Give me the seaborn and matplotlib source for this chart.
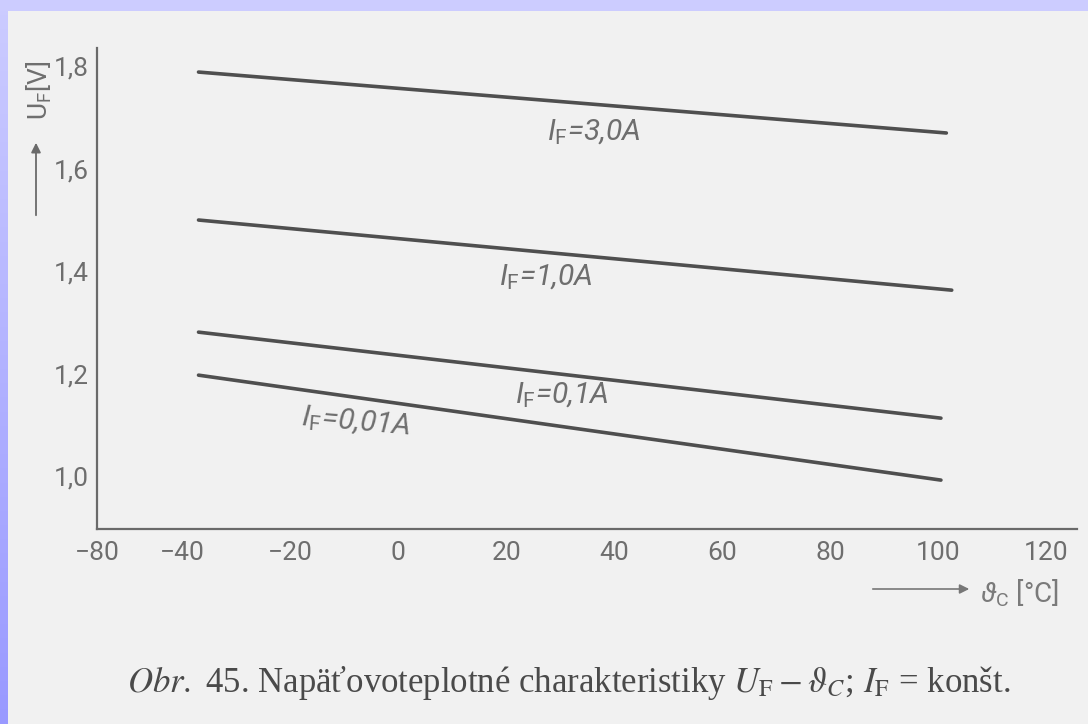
import numpy as np
import pandas as pd
import matplotlib
matplotlib.use("Agg")
import matplotlib.pyplot as plt
import seaborn as sns
from matplotlib import font_manager as fm

# ---- data ----
currents = ["3,0A", "1,0A", "0,1A", "0,01A"]
t_start = [-37.0, -37.0, -37.0, -37.0]
t_end = [101.5, 102.5, 100.5, 100.5]
u_start = [1.789, 1.500, 1.281, 1.197]
u_end = [1.670, 1.363, 1.113, 0.992]
label_t = [36.1, 27.3, 30.3, -7.8]
label_u = [1.672, 1.389, 1.158, 1.106]
label_rot = [0, 0, 0, -5]

xtick_vals = [-40, -20, 0, 20, 40, 60, 80, 100, 120]
xtick_labels = ["−40", "−20", "0", "20", "40", "60", "80", "100", "120"]
origin_label = "−80"
ytick_vals = [1.0, 1.2, 1.4, 1.6, 1.8]
ytick_labels = ["1,0", "1,2", "1,4", "1,6", "1,8"]

caption = (r"$\it{Obr.}$ 45. Napäťovoteplotné charakteristiky "
           r"$U_{\mathrm{F}}-\vartheta_{C}$; $I_{\mathrm{F}}$ = konšt.")

# ---- style ----
sns.set_style("white")
available = {f.name for f in fm.fontManager.ttflist}
sans = "DejaVu Sans"
for cand in ["Roboto", "Lato", "Liberation Sans"]:
    if cand in available:
        sans = cand
        break
serif = "Liberation Serif" if "Liberation Serif" in available else "DejaVu Serif"
plt.rcParams["font.family"] = [sans, "DejaVu Sans"]
plt.rcParams["mathtext.fontset"] = "custom"
plt.rcParams["mathtext.rm"] = sans
plt.rcParams["mathtext.it"] = sans + ":italic"
plt.rcParams["mathtext.bf"] = sans + ":bold"

W, H = 1088, 724
fig = plt.figure(figsize=(W / 100, H / 100), dpi=100)
paper = "#f1f1f1"
fig.patch.set_facecolor(paper)

# scanned page border (lavender strips on top and left)
grad = np.linspace(0, 1, H)[:, None]
top_c = np.array([0.80, 0.80, 1.0])
bot_c = np.array([0.60, 0.60, 1.0])
left = (top_c[None, None, :] * (1 - grad[..., None]) + bot_c[None, None, :] * grad[..., None])
left = np.repeat(left, 8, axis=1)
fig.figimage(left, xo=0, yo=0, origin="upper", zorder=0)
top = np.ones((11, W, 3)) * top_c[None, None, :]
fig.figimage(top, xo=0, yo=H - 11, origin="upper", zorder=0)

# axes placement (pixels from reference)
x0, x1 = 97, 1077
y_top, y_bot = 48, 529
ax = fig.add_axes([x0 / W, (H - y_bot) / H, (x1 - x0) / W, (y_bot - y_top) / H])
ax.set_facecolor("none")

xlim = (-55.8, 125.7)
ylim = (0.8965, 1.836)

rows = []
for c, ts, te, us, ue in zip(currents, t_start, t_end, u_start, u_end):
    rows.append({"I": c, "t": ts, "u": us})
    rows.append({"I": c, "t": te, "u": ue})
df = pd.DataFrame(rows)

line_col = "#4f4f4f"
sns.lineplot(data=df, x="t", y="u", hue="I", palette=[line_col] * len(currents),
             estimator=None, sort=False, legend=False, lw=2.6, ax=ax)

txt_col = "#6e6e6e"
for c, lx, ly, r in zip(currents, label_t, label_u, label_rot):
    ax.text(lx, ly, r"$I_{\mathrm{F}}$=" + c, ha="center", va="center", rotation=r,
            fontsize=21.5, style="italic", color=txt_col)

ax.set_xlim(*xlim)
ax.set_ylim(*ylim)
ax.set_xticks([xlim[0]] + xtick_vals)
ax.set_xticklabels([origin_label] + xtick_labels)
ax.set_yticks(ytick_vals)
ax.set_yticklabels(ytick_labels)
ax.set_xlabel("")
ax.set_ylabel("")

for s in ["top", "right"]:
    ax.spines[s].set_visible(False)
for s in ["left", "bottom"]:
    ax.spines[s].set_color("#6a6a6a")
    ax.spines[s].set_linewidth(1.6)

ax.tick_params(axis="both", direction="inout", length=10, width=1.3, color="#6a6a6a",
               labelcolor=txt_col, labelsize=19)
ax.tick_params(axis="x", pad=4)
ax.tick_params(axis="y", pad=1)
ax.xaxis.get_major_ticks()[0].tick1line.set_visible(False)

# y axis label with arrow
fig.text(39 / W, 1 - 90 / H, r"U$_{\mathrm{F}}$[V]", rotation=90, ha="center", va="center",
         fontsize=19, color=txt_col)
fig.add_artist(matplotlib.patches.FancyArrowPatch(
    (36 / W, 1 - 218 / H), (36 / W, 1 - 140 / H), transform=fig.transFigure,
    arrowstyle="-|>", mutation_scale=14, color="#6a6a6a", lw=1.3))

# x axis label with arrow
fig.add_artist(matplotlib.patches.FancyArrowPatch(
    (870 / W, 1 - 589 / H), (972 / W, 1 - 589 / H), transform=fig.transFigure,
    arrowstyle="-|>", mutation_scale=14, color="#777777", lw=1.2))
fig.text(980 / W, 1 - 593 / H, r"$\vartheta_{\mathrm{C}}$ [°C]", ha="left", va="center",
         fontsize=20, color="#7a7a7a")

# caption
fig.text(127 / W, 1 - 683 / H, caption, ha="left", va="center", fontsize=25,
         color="#4a4a4a", family=[serif, "DejaVu Serif"], math_fontfamily="stix")

fig.savefig("out.png", dpi=100, facecolor=fig.get_facecolor())
